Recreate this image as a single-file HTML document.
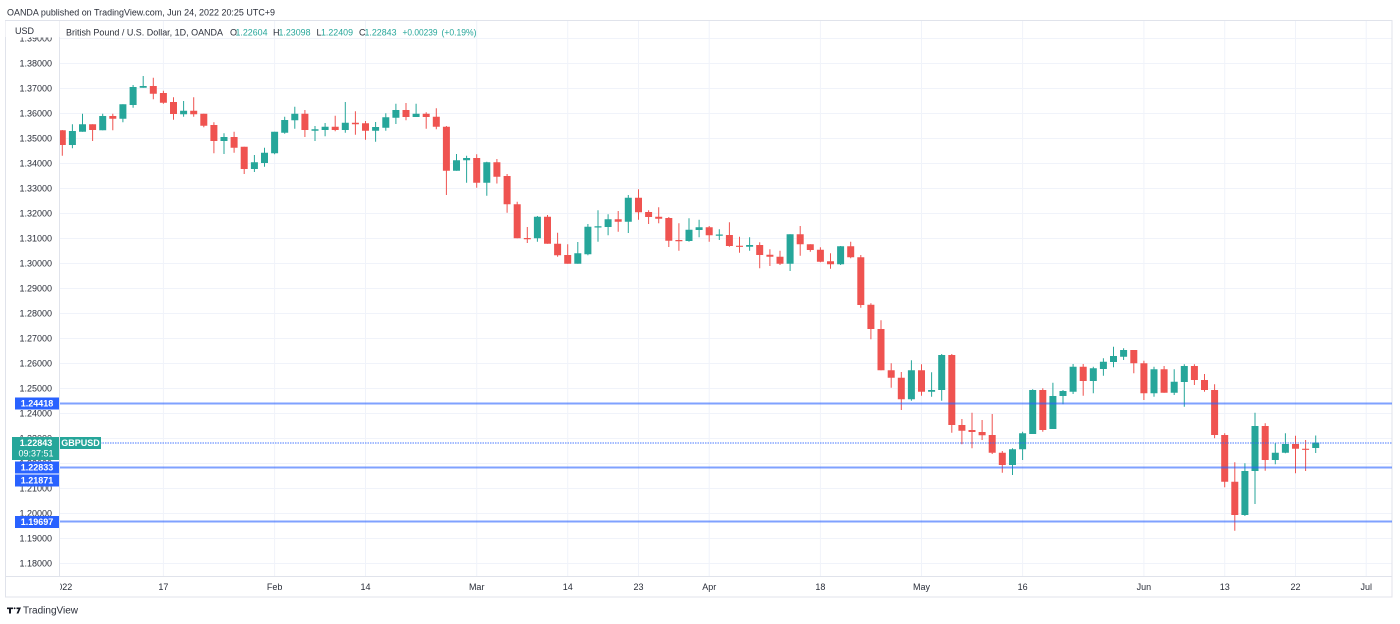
<!DOCTYPE html>
<html><head><meta charset="utf-8"><style>
html,body{margin:0;padding:0;background:#fff;width:1400px;height:624px;overflow:hidden}
svg{display:block}
text{font-family:"Liberation Sans",Arial,sans-serif}
</style></head><body>
<svg width="1400" height="624" viewBox="0 0 1400 624" xmlns="http://www.w3.org/2000/svg">
<defs>
<clipPath id="pane"><rect x="60" y="20" width="1332" height="556.5"/></clipPath>
<clipPath id="axis"><rect x="5" y="37.5" width="55" height="539"/></clipPath>
<clipPath id="taxis"><rect x="60" y="577" width="1332" height="20"/></clipPath>
</defs>
<rect width="1400" height="624" fill="#fff"/>
<text x="7" y="15.5" font-size="9" fill="#2a2e39" textLength="268" lengthAdjust="spacingAndGlyphs">OANDA published on TradingView.com, Jun 24, 2022 20:25 UTC+9</text>

<!-- grid -->
<g stroke="#f0f3fa" stroke-width="1" clip-path="url(#pane)">
<path d="M60 38.5H1392M60 63.5H1392M60 88.5H1392M60 113.5H1392M60 138.5H1392M60 163.5H1392M60 188.5H1392M60 213.5H1392M60 238.5H1392M60 263.5H1392M60 288.5H1392M60 313.5H1392M60 338.5H1392M60 363.5H1392M60 388.5H1392M60 413.5H1392M60 438.5H1392M60 463.5H1392M60 488.5H1392M60 513.5H1392M60 538.5H1392M60 563.5H1392"/>
<path d="M163.4 20V577M274.6 20V577M365.5 20V577M476.7 20V577M567.7 20V577M638.5 20V577M709.2 20V577M820.4 20V577M921.5 20V577M1022.6 20V577M1143.9 20V577M1224.7 20V577M1295.5 20V577M1366.2 20V577"/>
</g>

<!-- frame -->
<rect x="5.5" y="20.5" width="1386.5" height="576.5" fill="none" stroke="#e0e3eb"/>
<path d="M59.5 20.5V577M5.5 576.5H1392" stroke="#e0e3eb" fill="none"/>

<!-- candles -->
<g clip-path="url(#pane)">
<path fill="none" stroke="#26a69a" stroke-width="1" d="M72.4 124.3V148.3M82.5 113.7V131.7M102.7 113.7V130.3M122.9 104.3V122.3M133.1 85V107.7M143.2 76V87.7M183.6 101V116.7M224 133.3V154M254.4 155V172M264.5 147.7V166.7M274.6 131.7V154.3M284.7 116.7V133.7M294.8 106.7V128.7M315 126V141M325.1 123V136.3M345.3 102V132.7M375.6 122V141.7M385.8 113.3V130.7M395.9 103.7V124M416.1 103.7V117M456.5 154V170.7M466.6 155.7V182.7M486.8 161.7V195.7M537.4 216V241.7M577.8 242V263.7M587.9 224V255.3M598 210.3V241.7M608.1 214.3V235.3M628.3 195V233M689 218.3V241.7M699.1 219.7V237.3M719.3 229.3V240M749.6 237.3V250.7M790.1 234.3V271M840.6 246V265M911.4 360.3V400.7M931.6 372.3V396.7M941.7 354V400.7M1012.5 448.3V475M1022.6 431.7V460M1032.7 389.3V434M1052.9 382.7V429M1063 390V404.3M1073.1 364V394M1093.3 366.7V393.3M1103.4 358.3V375.7M1113.5 346.7V367.3M1123.6 348.3V360M1154 366.7V396.7M1174.2 369.3V395M1184.3 364.3V406.7M1244.9 463.3V516M1255 412.7V504M1275.3 443.3V464.3M1285.4 433.3V453.3M1315.7 435.5V453"/>
<path fill="#26a69a" d="M68.9 131h7v14h-7zM79 124.3h7v7.4h-7zM99.2 116h7v14.3h-7zM119.4 104.3h7v14.4h-7zM129.6 87h7v18h-7zM139.7 86h7v1.7h-7zM180.1 110.7h7v3.6h-7zM220.5 137h7v4h-7zM250.9 162.3h7v6.7h-7zM261 152.7h7v10.3h-7zM271.1 131.7h7v21.6h-7zM281.2 120h7v12.7h-7zM291.3 113.7h7v6.6h-7zM311.5 129.3h7v1.4h-7zM321.6 126.7h7v3.3h-7zM341.8 122.7h7v7.3h-7zM372.1 127h7v3.7h-7zM382.3 117.3h7v10.4h-7zM392.4 110h7v7.7h-7zM412.6 113.7h7v3.3h-7zM453 160.3h7v10.4h-7zM463.1 158h7v2.3h-7zM483.3 162.3h7v20.4h-7zM533.9 216.7h7v21.6h-7zM574.3 253.3h7v10.4h-7zM584.4 226.7h7v27.6h-7zM594.5 226.3h7v1.2h-7zM604.6 219.3h7v7.7h-7zM624.8 197.7h7v24h-7zM685.5 229.7h7v11.3h-7zM695.6 227.3h7v2.7h-7zM715.8 234.5h7v1.2h-7zM746.1 245h7v1.7h-7zM786.6 234.3h7v29.4h-7zM837.1 246.3h7v18h-7zM907.9 370.3h7v29h-7zM928.1 390h7v1.7h-7zM938.2 355h7v35h-7zM1009 449.3h7v15.7h-7zM1019.1 433.3h7v16h-7zM1029.2 390h7v44h-7zM1049.4 396h7v33h-7zM1059.5 391h7v5h-7zM1069.6 366.7h7v25h-7zM1089.8 368.3h7v12.7h-7zM1099.9 361.7h7v7.3h-7zM1110 356h7v6h-7zM1120.1 350h7v6.7h-7zM1150.5 369.3h7v24h-7zM1170.7 381.7h7v11h-7zM1180.8 366h7v16h-7zM1241.4 471h7v44h-7zM1251.5 426h7v45h-7zM1271.8 452.7h7v7.3h-7zM1281.9 444h7v8.7h-7zM1312.2 442.5h7v5.5h-7z"/>
<path fill="none" stroke="#ef5350" stroke-width="1" d="M62.3 130V155.7M92.6 124.3V141M112.8 113.7V130.3M153.3 77.7V99.3M163.4 90.7V103.7M173.5 97.3V119.7M193.7 97.3V116.7M203.8 113.7V127.3M213.9 122.3V153.3M234.1 131.7V152.7M244.2 146.7V174M304.9 110V137M335.2 115.7V131.3M355.4 111.3V134.7M365.5 121V139.7M406 103V120.3M426.2 112.3V128.7M436.3 108.3V129.3M446.4 126V195M476.7 154.3V187.7M496.9 159V183.5M507.1 174V212.7M517.2 201.7V238.3M527.3 227V243M547.5 215V243.7M557.6 232.7V256.7M567.7 244.3V263.7M618.2 211V231.7M638.5 189.3V219.7M648.6 210.3V224M658.7 207.3V223.3M668.8 217V247M678.9 223.3V250.7M709.2 226V241.7M729.4 222.3V246.7M739.5 236.7V252.7M759.7 242.3V268.3M769.9 249.3V266M780 250.7V265M800.2 226V255.7M810.3 244.3V251.7M820.4 247.3V262.3M830.5 253.3V268.7M850.7 241.7V258.3M860.8 255V307.7M870.9 303.3V339.3M881 320.3V370.3M891.2 363.3V387.7M901.3 372V410M921.5 364.3V395.7M951.8 354V432.7M961.9 419V444.3M972 412.7V448.3M982.1 420V440M992.2 414V454M1002.3 451V472.7M1042.8 388.3V431.7M1083.2 364V395.7M1133.8 350V373.3M1143.9 360.7V400M1164.1 366V392.7M1194.4 364.3V385M1204.5 374V391.7M1214.6 384.3V438.3M1224.7 433.3V487.3M1234.8 462.3V530.7M1265.2 423.3V470.7M1295.5 435.7V473.3M1305.6 440V471"/>
<path fill="#ef5350" d="M58.8 130.3h7v14.7h-7zM89.1 124.3h7v5.7h-7zM109.3 116h7v2.7h-7zM149.8 86h7v7.7h-7zM159.9 93h7v9.7h-7zM170 102h7v12h-7zM190.2 110.7h7v3.6h-7zM200.3 113.7h7v12h-7zM210.4 125h7v16h-7zM230.6 137h7v10.7h-7zM240.7 146.7h7v22.3h-7zM301.4 113.7h7v16.3h-7zM331.7 126.7h7v3.3h-7zM351.9 122.7h7v1.6h-7zM362 123.3h7v7.4h-7zM402.5 110h7v7h-7zM422.7 113.7h7v3.3h-7zM432.8 116.7h7v10h-7zM442.9 126.7h7v44h-7zM473.2 158h7v24.7h-7zM493.4 162.3h7v14.4h-7zM503.6 176h7v28.3h-7zM513.7 204.3h7v34h-7zM523.8 238h7v1.2h-7zM544 216.7h7v27h-7zM554.1 243.7h7v11.6h-7zM564.2 255h7v8.7h-7zM614.7 219.3h7v2.4h-7zM635 197.7h7v14.6h-7zM645.1 212h7v5h-7zM655.2 216.7h7v2h-7zM665.3 218h7v22.7h-7zM675.4 240h7v1.2h-7zM705.7 227.3h7v8h-7zM725.9 235h7v11h-7zM736 245.7h7v1.2h-7zM756.2 245h7v10h-7zM766.4 254.7h7v2h-7zM776.5 256.7h7v7h-7zM796.7 234.3h7v10h-7zM806.8 244.3h7v5.7h-7zM816.9 249.7h7v12h-7zM827 261.3h7v3h-7zM847.2 246.3h7v11h-7zM857.3 257.3h7v47.7h-7zM867.4 304.7h7v24.3h-7zM877.5 329h7v41.3h-7zM887.7 370.3h7v7.4h-7zM897.8 377.7h7v21.6h-7zM918 370.3h7v21.4h-7zM948.3 355h7v70h-7zM958.4 425h7v5.7h-7zM968.5 430h7v2h-7zM978.6 432h7v3.3h-7zM988.7 435h7v17.7h-7zM998.8 452.7h7v12.3h-7zM1039.3 390h7v40h-7zM1079.7 366.7h7v14.3h-7zM1130.3 350h7v13.3h-7zM1140.4 363.3h7v30h-7zM1160.6 369.3h7v23.4h-7zM1190.9 366h7v14h-7zM1201 380h7v10h-7zM1211.1 390h7v45h-7zM1221.2 435h7v46.7h-7zM1231.3 481.7h7v33.3h-7zM1261.7 426h7v34h-7zM1292 444h7v4.7h-7zM1302.1 448.7h7v1.2h-7z"/>
</g>

<!-- horizontal lines -->
<g clip-path="url(#pane)" fill="none">
<path d="M60 403.5H1392M60 467.5H1392M60 521.5H1392" stroke="#2962ff" stroke-opacity="0.6" stroke-width="2"/>
<path d="M60 443H1392" stroke="#2962ff" stroke-opacity="0.85" stroke-width="1" stroke-dasharray="1.5 1"/>
</g>

<!-- price axis labels -->
<g clip-path="url(#axis)" font-size="9" fill="#2a2e39" text-anchor="end">
<text x="52" y="41.7">1.39000</text>
<text x="52" y="66.7">1.38000</text>
<text x="52" y="91.7">1.37000</text>
<text x="52" y="116.7">1.36000</text>
<text x="52" y="141.7">1.35000</text>
<text x="52" y="166.7">1.34000</text>
<text x="52" y="191.7">1.33000</text>
<text x="52" y="216.7">1.32000</text>
<text x="52" y="241.7">1.31000</text>
<text x="52" y="266.7">1.30000</text>
<text x="52" y="291.7">1.29000</text>
<text x="52" y="316.7">1.28000</text>
<text x="52" y="341.7">1.27000</text>
<text x="52" y="366.7">1.26000</text>
<text x="52" y="391.7">1.25000</text>
<text x="52" y="416.7">1.24000</text>
<text x="52" y="441.7">1.23000</text>
<text x="52" y="466.7">1.22000</text>
<text x="52" y="491.7">1.21000</text>
<text x="52" y="516.7">1.20000</text>
<text x="52" y="541.7">1.19000</text>
<text x="52" y="566.7">1.18000</text>
</g>
<rect x="5.5" y="21" width="54" height="16" fill="#fff"/>
<text x="15" y="34" font-size="9" fill="#2a2e39">USD</text>

<!-- price boxes -->
<g font-size="9" fill="#fff" text-anchor="middle" font-weight="bold">
<rect x="15" y="397.5" width="44" height="12" fill="#2962ff"/>
<text x="37" y="406.7" fill="#fff">1.24418</text>
<rect x="12" y="437" width="47" height="23" fill="#26a69a"/>
<text x="36" y="446.2" fill="#fff">1.22843</text>
<text x="36" y="456.5" fill="#fff" font-weight="normal">09:37:51</text>
<rect x="60" y="437" width="41" height="12" fill="#26a69a"/>
<text x="80.5" y="446.2" fill="#fff">GBPUSD</text>
<rect x="15" y="461.5" width="44" height="12" fill="#2962ff"/>
<text x="37" y="470.7" fill="#fff">1.22833</text>
<rect x="15" y="474.5" width="44" height="12" fill="#2962ff"/>
<text x="37" y="483.7" fill="#fff">1.21871</text>
<rect x="15" y="516" width="44" height="12" fill="#2962ff"/>
<text x="37" y="525.2" fill="#fff">1.19697</text>
</g>

<!-- legend -->
<g font-size="9" fill="#2a2e39">
<text x="66" y="35.5" textLength="157" lengthAdjust="spacingAndGlyphs">British Pound / U.S. Dollar, 1D, OANDA</text>
<text x="230" y="35.5">O</text><text x="235.5" y="35.5" fill="#26a69a" textLength="32" lengthAdjust="spacingAndGlyphs">1.22604</text>
<text x="273" y="35.5">H</text><text x="278.5" y="35.5" fill="#26a69a" textLength="32" lengthAdjust="spacingAndGlyphs">1.23098</text>
<text x="316.5" y="35.5">L</text><text x="321" y="35.5" fill="#26a69a" textLength="32" lengthAdjust="spacingAndGlyphs">1.22409</text>
<text x="359" y="35.5">C</text><text x="364.5" y="35.5" fill="#26a69a" textLength="32" lengthAdjust="spacingAndGlyphs">1.22843</text>
<text x="402.5" y="35.5" fill="#26a69a" textLength="35" lengthAdjust="spacingAndGlyphs">+0.00239</text>
<text x="441.5" y="35.5" fill="#26a69a" textLength="35" lengthAdjust="spacingAndGlyphs">(+0.19%)</text>
</g>

<!-- time axis -->
<g font-size="9" fill="#2a2e39" text-anchor="middle" clip-path="url(#taxis)">
<text x="62.3" y="590">2022</text>
<text x="163.4" y="590">17</text>
<text x="274.6" y="590">Feb</text>
<text x="365.5" y="590">14</text>
<text x="476.7" y="590">Mar</text>
<text x="567.7" y="590">14</text>
<text x="638.5" y="590">23</text>
<text x="709.2" y="590">Apr</text>
<text x="820.4" y="590">18</text>
<text x="921.5" y="590">May</text>
<text x="1022.6" y="590">16</text>
<text x="1143.9" y="590">Jun</text>
<text x="1224.7" y="590">13</text>
<text x="1295.5" y="590">22</text>
<text x="1366.2" y="590">Jul</text>
</g>

<!-- footer logo -->
<g fill="#131722">
<path d="M7 607.5h6v1.6h-2v4.4h-2v-4.4h-2z"/>
<circle cx="14.6" cy="608.3" r="0.9"/>
<path d="M16.5 607.5h4.5l-2.6 6h-1.9l2-4.4h-2z"/>
</g>
<text x="23" y="613.5" font-size="10" fill="#2a2e39" textLength="55" lengthAdjust="spacingAndGlyphs">TradingView</text>
</svg>
</body></html>
